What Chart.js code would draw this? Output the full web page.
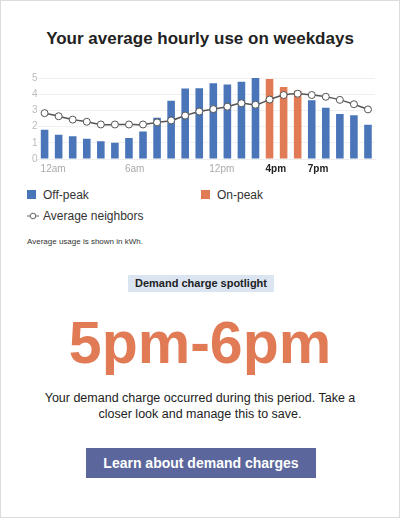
<!DOCTYPE html>
<html lang="en">
<head>
  <meta charset="UTF-8" />
  <title>Average hourly use</title>
  <script src="https://cdn.jsdelivr.net/npm/chart.js"></script>
  <style>
    body { margin: 0; font-family: "Liberation Sans", Arial, sans-serif; background: #fff; }
    .card {
      position: relative;
      width: 400px; height: 518px;
      box-sizing: border-box;
      border: 1px solid #dcdcdc;
      color: #222;
    }
    h1 {
      position: absolute; left: 0; right: 0; top: 28px; margin: 0;
      text-align: center; font-size: 17px; font-weight: bold; color: #222;
    }
    .chart-wrapper { position: absolute; left: 31px; top: 70px; width: 348px; height: 108px; }
    .legend { position: absolute; left: 26px; top: 187px; font-size: 12px; color: #333; }
    .legend .item { position: absolute; white-space: nowrap; }
    .legend .box { position: absolute; left: 0; top: 2px; width: 9px; height: 9px; }
    .legend .label { position: absolute; left: 16px; top: 0; }
    .note { position: absolute; left: 26px; top: 236px; font-size: 8px; color: #333; }
    .tag {
      position: absolute; left: 127px; top: 274px; width: 146px; height: 17px;
      background: #dbe5f2; font-size: 11px; font-weight: bold; text-align: center; line-height: 17px;
    }
    .big {
      position: absolute; left: 0; right: 0; top: 308px; text-align: center;
      font-size: 59px; font-weight: bold; color: #e07b56; line-height: 68px;
    }
    .text {
      position: absolute; left: 0; right: 0; top: 390px; text-align: center;
      font-size: 12.5px; line-height: 15.5px; color: #222;
    }
    .btn {
      position: absolute; left: 85px; top: 447px; width: 230px; height: 30px;
      background: #5b679c; color: #fff; font-size: 14px; font-weight: bold;
      text-align: center; line-height: 30px;
    }
  </style>
</head>
<body>
<div class="card">
  <h1>Your average hourly use on weekdays</h1>
  <div class="chart-wrapper"><canvas id="usoChart"></canvas></div>

  <div class="legend">
    <div class="item" style="left:0;top:0"><span class="box" style="background:#4a76b9"></span><span class="label">Off-peak</span></div>
    <div class="item" style="left:174px;top:0"><span class="box" style="background:#e07b56"></span><span class="label">On-peak</span></div>
    <div class="item" style="left:0;top:21px">
      <svg width="12" height="12" style="position:absolute;left:0;top:1px">
        <line x1="0" y1="6" x2="12" y2="6" stroke="#666" stroke-width="1"/>
        <circle cx="6" cy="6" r="2.8" fill="#fff" stroke="#666" stroke-width="1"/>
      </svg>
      <span class="label">Average neighbors</span>
    </div>
  </div>
  <div class="note">Average usage is shown in kWh.</div>

  <div class="tag">Demand charge spotlight</div>
  <div class="big">5pm-6pm</div>
  <div class="text">Your demand charge occurred during this period. Take a<br>closer look and manage this to save.</div>
  <div class="btn">Learn about demand charges</div>
</div>

<script>
  // dados (kWh por hora)
  const horas = ['12am','','','','','','6am','','','','','','12pm','','','','4pm','','','7pm','','','',''];
  const consumo = [1.8, 1.5, 1.4, 1.25, 1.1, 1.0, 1.3, 1.7, 2.55, 3.6, 4.35, 4.37, 4.68, 4.6, 4.77, 5.0, 4.94, 4.45, 4.22, 3.63, 3.16, 2.78, 2.7, 2.11];
  const vizinhos = [2.83, 2.64, 2.43, 2.3, 2.13, 2.13, 2.13, 2.13, 2.26, 2.38, 2.68, 2.93, 3.08, 3.23, 3.44, 3.35, 3.67, 3.95, 4.03, 3.95, 3.84, 3.65, 3.38, 3.06];
  const horasPico = [16, 17, 18];
  const labelsDestaque = [16, 19];

  const azul = '#4a76b9';
  const laranja = '#e07b56';

  const ctx = document.getElementById('usoChart').getContext('2d');
  new Chart(ctx, {
    data: {
      labels: horas,
      datasets: [
        {
          type: 'line',
          label: 'Average neighbors',
          data: vizinhos,
          borderColor: '#555',
          borderWidth: 1.5,
          tension: 0.4,
          pointRadius: 3.5,
          pointBackgroundColor: '#fff',
          pointBorderColor: '#555',
          pointBorderWidth: 1,
          order: 0
        },
        {
          type: 'bar',
          label: 'Usage',
          data: consumo,
          backgroundColor: c => horasPico.includes(c.dataIndex) ? laranja : azul,
          barPercentage: 0.9,
          categoryPercentage: 0.6,
          order: 1
        }
      ]
    },
    options: {
      responsive: true,
      maintainAspectRatio: false,
      animation: false,
      events: [],
      plugins: { legend: { display: false }, tooltip: { enabled: false } },
      layout: { padding: { left: 0, right: 0, top: 7, bottom: 0 } },
      scales: {
        x: {
          offset: true,
          grid: { display: false, drawTicks: false },
          border: { color: '#eee' },
          ticks: {
            autoSkip: false,
            maxRotation: 0,
            align: 'start',
            labelOffset: -4,
            padding: 4,
            color: c => labelsDestaque.includes(c.index) ? '#222' : '#aaa',
            font: c => ({
              family: 'Liberation Sans',
              size: 10,
              weight: labelsDestaque.includes(c.index) ? 'bold' : 'normal'
            })
          }
        },
        y: {
          min: 0,
          max: 5,
          grid: { color: '#f0f0f0', drawTicks: false },
          border: { display: false },
          ticks: {
            stepSize: 1,
            autoSkip: false,
            color: '#bbb',
            padding: 0,
            font: { family: 'Liberation Sans', size: 10 }
          }
        }
      }
    }
  });
</script>
</body>
</html>
